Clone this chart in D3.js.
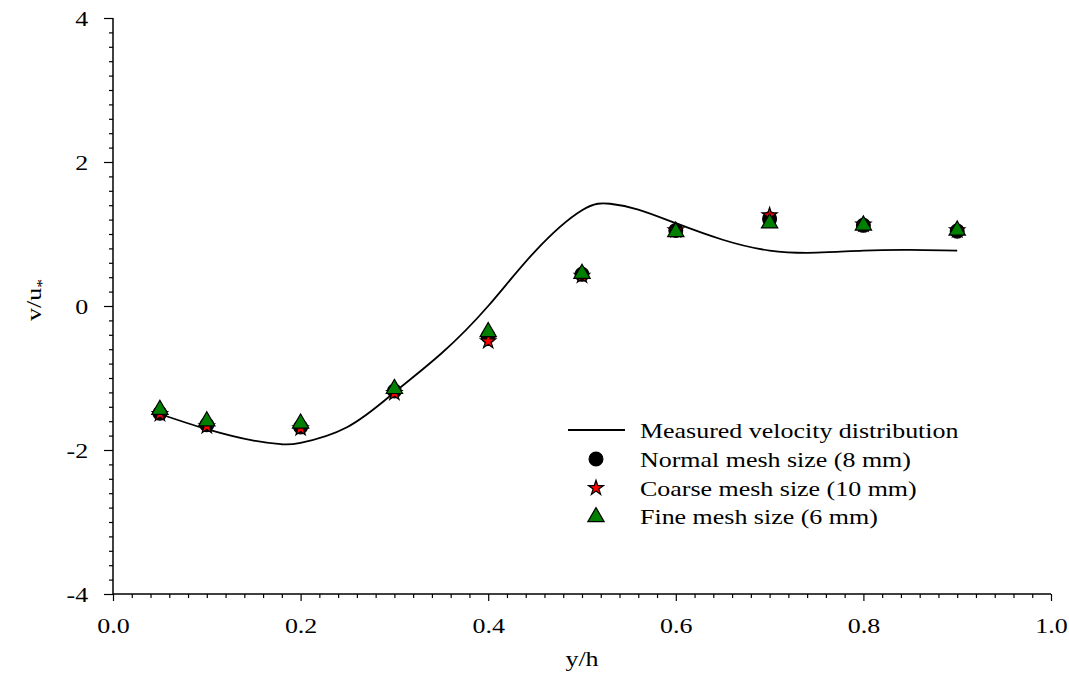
<!DOCTYPE html>
<html>
<head>
<meta charset="utf-8">
<script src="https://cdn.jsdelivr.net/npm/d3@7"></script>
<style>
    body { margin: 0; background: #fff; }
    svg text { font-family: "Liberation Serif", "Times New Roman", serif; fill: #000; }
</style>
</head>
<body>
<svg id="chart" width="1069" height="690"></svg>
<script>
// Measured velocity distribution (solid curve)
const measuredX = [0.05, 0.10, 0.15, 0.18, 0.20, 0.25, 0.30, 0.35, 0.40, 0.45, 0.50, 0.53, 0.56, 0.60, 0.65, 0.70, 0.75, 0.80, 0.85, 0.90];
const measuredY = [-1.50, -1.71, -1.87, -1.92, -1.90, -1.68, -1.20, -0.66, 0.00, 0.76, 1.33, 1.42, 1.34, 1.15, 0.92, 0.77, 0.74, 0.77, 0.78, 0.77];

// Simulated points
const meshX = [0.05, 0.1, 0.2, 0.3, 0.4, 0.5, 0.6, 0.7, 0.8, 0.9];
const normalY = [-1.49, -1.65, -1.68, -1.18, -0.42, 0.44, 1.05, 1.21, 1.12, 1.04];
const coarseY = [-1.50, -1.67, -1.70, -1.21, -0.49, 0.42, 1.05, 1.26, 1.13, 1.05];
const fineY   = [-1.44, -1.60, -1.63, -1.15, -0.36, 0.45, 1.03, 1.15, 1.12, 1.05];

const xTicks = [0.0, 0.2, 0.4, 0.6, 0.8, 1.0];
const yTicks = [-4, -2, 0, 2, 4];
const legendLabels = [
    "Measured velocity distribution",
    "Normal mesh size (8 mm)",
    "Coarse mesh size (10 mm)",
    "Fine mesh size (6 mm)"
];

const svg = d3.select("#chart");
const x = d3.scaleLinear().domain([0, 1]).range([113, 1051]);
const y = d3.scaleLinear().domain([-4, 4]).range([594, 18]);

const FS = 22;
const SX = 1.18; // the original text is a bit wide

// minor ticks
const xMinor = d3.range(0, 1.0001, 0.02).filter(v => Math.abs(v * 5 - Math.round(v * 5)) > 1e-6);
const yMinor = d3.range(-4, 4.0001, 0.2).filter(v => Math.abs(v / 2 - Math.round(v / 2)) > 1e-6);

const xAxis = svg.append("g").attr("transform", `translate(0,${y(-4)})`)
    .call(d3.axisBottom(x).tickValues(xTicks).tickFormat(d => d.toFixed(1)).tickSize(7).tickPadding(16));
const yAxis = svg.append("g").attr("transform", `translate(${x(0)},0)`)
    .call(d3.axisLeft(y).tickValues(yTicks).tickFormat(d => String(d)).tickSize(9).tickPadding(12));

svg.append("g").attr("transform", `translate(0,${y(-4)})`)
    .call(d3.axisBottom(x).tickValues(xMinor).tickFormat("").tickSize(4).tickSizeOuter(0))
    .select(".domain").remove();
svg.append("g").attr("transform", `translate(${x(0)},0)`)
    .call(d3.axisLeft(y).tickValues(yMinor).tickFormat("").tickSize(4).tickSizeOuter(0))
    .select(".domain").remove();

svg.selectAll(".domain").attr("stroke", "#000").attr("stroke-width", 1.5);
svg.selectAll(".tick line").attr("stroke", "#000").attr("stroke-width", 1.2);
svg.selectAll(".tick text")
    .style("font-size", FS + "px")
    .attr("font-family", null)
    .attr("transform", `scale(${SX},1)`);
xAxis.select(".domain").attr("d", `M${x(0)},0H${x(1)}`);
yAxis.select(".domain").attr("d", `M0,${y(4)}V${y(-4)}`);

// axis titles
svg.append("text")
    .attr("transform", `translate(${x(0.5)},666) scale(${SX},1)`)
    .attr("text-anchor", "middle")
    .style("font-size", FS + "px")
    .text("y/h");

const yl = svg.append("text")
    .attr("transform", `translate(41,${y(0) - 6}) rotate(-90) scale(${SX},1)`)
    .attr("text-anchor", "middle")
    .style("font-size", FS + "px");
yl.append("tspan").text("v/u");
yl.append("tspan").attr("dy", 6).style("font-size", "15px").text("*");

// measured line
const line = d3.line()
    .x((d, i) => x(measuredX[i]))
    .y(d => y(d))
    .curve(d3.curveNatural);

svg.append("path")
    .datum(measuredY)
    .attr("fill", "none")
    .attr("stroke", "#000")
    .attr("stroke-width", 1.8)
    .attr("d", line);

// markers
const circleSym = d3.symbol().type(d3.symbolCircle).size(150);
const starSym = d3.symbol().type(d3.symbolStar).size(70);
const triSym = d3.symbol().type(d3.symbolTriangle).size(115);

function drawPoints(values, sym, fill) {
    svg.append("g").selectAll("path")
        .data(values)
        .join("path")
        .attr("transform", (d, i) => `translate(${x(meshX[i])},${y(d)})`)
        .attr("d", sym)
        .attr("fill", fill)
        .attr("stroke", "#000")
        .attr("stroke-width", 1.2);
}
drawPoints(normalY, circleSym, "#000");
drawPoints(coarseY, starSym, "#ff0000");
drawPoints(fineY, triSym, "#008000");

// legend
const lg = svg.append("g");
const rowY = [430, 459, 488, 516];
const textX = 640;
const keyX = 596;

lg.append("line")
    .attr("x1", 568).attr("x2", 625)
    .attr("y1", rowY[0]).attr("y2", rowY[0])
    .attr("stroke", "#000").attr("stroke-width", 1.8);
lg.append("path").attr("transform", `translate(${keyX},${rowY[1]})`)
    .attr("d", circleSym).attr("fill", "#000").attr("stroke", "#000").attr("stroke-width", 1.2);
lg.append("path").attr("transform", `translate(${keyX},${rowY[2]})`)
    .attr("d", starSym).attr("fill", "#ff0000").attr("stroke", "#000").attr("stroke-width", 1.2);
lg.append("path").attr("transform", `translate(${keyX},${rowY[3] + 1})`)
    .attr("d", triSym).attr("fill", "#008000").attr("stroke", "#000").attr("stroke-width", 1.2);

lg.selectAll("text.lab")
    .data(legendLabels)
    .join("text")
    .attr("class", "lab")
    .attr("transform", (d, i) => `translate(${textX},${rowY[i]}) scale(${SX},1)`)
    .attr("dy", "0.35em")
    .style("font-size", FS + "px")
    .text(d => d);
</script>
</body>
</html>
